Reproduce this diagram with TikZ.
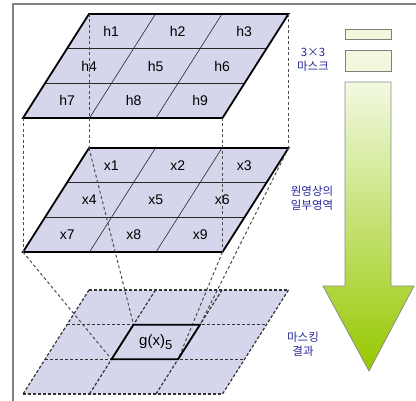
\documentclass[tikz,border=0pt]{standalone}
\usepackage{fontspec}
\setmainfont{Liberation Sans}
\newfontfamily\krfont{Noto Sans CJK KR}
\usepackage{xcolor}
\usepackage{tikz}
\usetikzlibrary{
    calc
}
\definecolor{planefill}{RGB}{213,213,235}
\definecolor{framegray}{RGB}{128,128,128}
\definecolor{labelblue}{RGB}{40,40,150}
\definecolor{barfill}{RGB}{241,248,222}
\definecolor{arrowtop}{RGB}{242,249,226}
\definecolor{arrowbot}{RGB}{150,200,0}
\tikzset{
    plane/.style={
        fill=planefill,
        draw=none
    }
}
\tikzset{
    planeedge/.style={
        draw=black,
        line width=1.8pt,
        line join=miter
    }
}
\tikzset{
    gridline/.style={
        draw=black!85,
        line width=0.6pt
    }
}
\tikzset{
    dashgrid/.style={
        draw=black!80,
        line width=1.2pt,
        dash pattern=on 3pt off 2pt
    }
}
\tikzset{
    proj/.style={
        draw=black!70,
        line width=1pt,
        dash pattern=on 3pt off 2.5pt
    }
}
\tikzset{
    celltext/.style={
        font=\fontsize{14}{14}\selectfont,
        inner sep=0pt
    }
}
\tikzset{
    sidelabel/.style={
        font=\krfont\fontsize{11.5}{14}\selectfont,
        text=labelblue,
        align=center,
        inner sep=0pt
    }
}
\tikzset{
    maskbar/.style={
        draw=black!50,
        line width=0.8pt,
        fill=barfill
    }
}

\begin{document}
\begin{tikzpicture}[x=1pt, y=-1pt]
\useasboundingbox (0,0) rectangle (416,401);

% ------------------------------------------------------------
% Frame
% ------------------------------------------------------------

\draw[framegray, line width=2pt] (13,401) -- (13,4) -- (416,4);

% ------------------------------------------------------------
% Grid points of the three planes
% ------------------------------------------------------------

\foreach \p/\y in {t/14, m/148, b/290} {
    \foreach \i in {0,...,3} {
        \foreach \j in {0,...,3} {
            \coordinate (\p-\i-\j) at ({89+\j*66.5-\i*22}, {\y+\i*104/3});
        }
    }
}

% ------------------------------------------------------------
% 3x3 mask
% ------------------------------------------------------------

\fill[plane] (t-0-0) -- (t-0-3) -- (t-3-3) -- (t-3-0) -- cycle;
\foreach \i in {1,2} {
    \draw[gridline] (t-\i-0) -- (t-\i-3);
    \draw[gridline] (t-0-\i) -- (t-3-\i);
}
\draw[planeedge] (t-0-0) -- (t-0-3) -- (t-3-3) -- (t-3-0) -- cycle;
\foreach \i in {0,1,2} {
    \foreach \j in {0,1,2} {
        \pgfmathtruncatemacro{\k}{3*\i+\j+1}
        \pgfmathtruncatemacro{\ii}{\i+1}
        \pgfmathtruncatemacro{\jj}{\j+1}
        \node[celltext] (h\k) at ($(t-\i-\j)!0.5!(t-\ii-\jj)$) {h\k};
    }
}

% ------------------------------------------------------------
% Part of the source image
% ------------------------------------------------------------

\fill[plane] (m-0-0) -- (m-0-3) -- (m-3-3) -- (m-3-0) -- cycle;
\foreach \i in {1,2} {
    \draw[gridline] (m-\i-0) -- (m-\i-3);
    \draw[gridline] (m-0-\i) -- (m-3-\i);
}
\draw[planeedge] (m-0-0) -- (m-0-3) -- (m-3-3) -- (m-3-0) -- cycle;
\foreach \i in {0,1,2} {
    \foreach \j in {0,1,2} {
        \pgfmathtruncatemacro{\k}{3*\i+\j+1}
        \pgfmathtruncatemacro{\ii}{\i+1}
        \pgfmathtruncatemacro{\jj}{\j+1}
        \node[celltext] (x\k) at ($(m-\i-\j)!0.5!(m-\ii-\jj)$) {x\k};
    }
}

% ------------------------------------------------------------
% Masking result
% ------------------------------------------------------------

\fill[plane] (b-0-0) -- (b-0-3) -- (b-3-3) -- (b-3-0) -- cycle;
\foreach \i in {0,...,3} {
    \draw[dashgrid] (b-\i-0) -- (b-\i-3);
    \draw[dashgrid] (b-0-\i) -- (b-3-\i);
}

% projection lines
\draw[proj] (t-0-0) -- (m-0-0);
\draw[proj] (t-0-3) -- (m-0-3);
\draw[proj] (t-3-0) -- (m-3-0);
\draw[proj] (t-3-3) -- (m-3-3);
\draw[proj] (m-0-0) -- (b-1-1);
\draw[proj] (m-0-3) -- (b-1-2);
\draw[proj] (m-3-0) -- (b-2-1);
\draw[proj] (m-3-3) -- (b-2-2);

\draw[planeedge] (b-1-1) -- (b-1-2) -- (b-2-2) -- (b-2-1) -- cycle;
\node[celltext, font=\fontsize{15}{15}\selectfont] (g5) at ($(b-1-1)!0.5!(b-2-2)$)
    {g(x)\raisebox{-4pt}{\fontsize{13}{13}\selectfont 5}};

% ------------------------------------------------------------
% Right side: bars, arrow and labels
% ------------------------------------------------------------

\draw[maskbar] (345,29) rectangle (391,39);
\draw[maskbar] (345,50) rectangle (391,71);
\shadedraw[top color=arrowtop, bottom color=arrowbot, draw=black!45, line width=0.8pt]
    (345,82) -- (391,82) -- (391,286) -- (414,286) -- (369,371)
    -- (323,286) -- (345,286) -- cycle;

\node[sidelabel] (masklbl) at (313,60) {3×3\\마스크};
\node[sidelabel] (regionlbl) at (312,198) {원영상의\\일부영역};
\node[sidelabel] (resultlbl) at (303,344) {마스킹\\결과};

\end{tikzpicture}
\end{document}
